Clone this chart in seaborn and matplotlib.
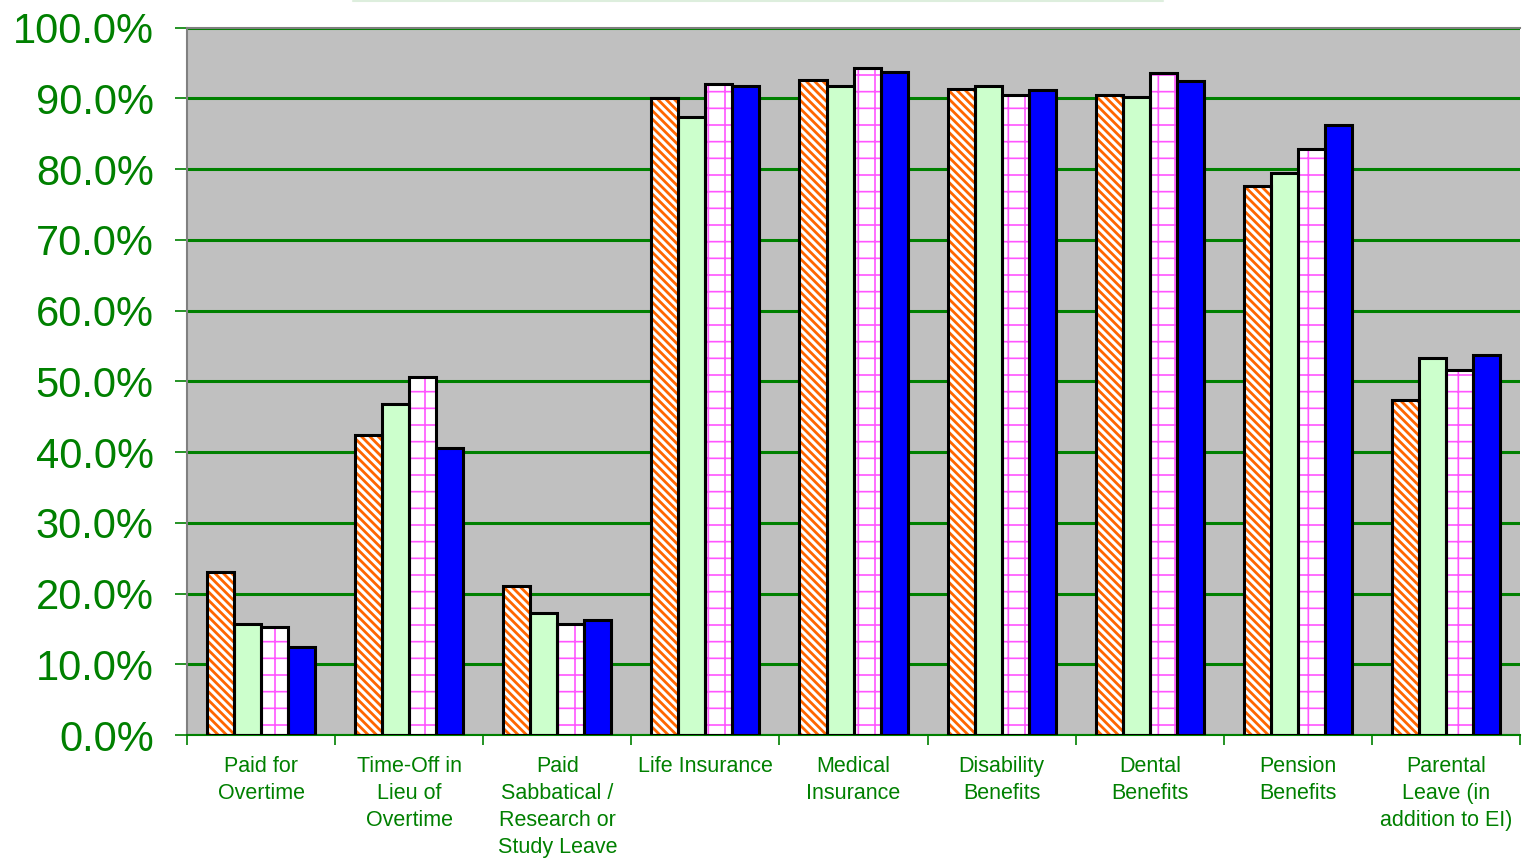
import numpy as np
import pandas as pd
import seaborn as sns
import matplotlib.pyplot as plt
from matplotlib.patches import Rectangle
from matplotlib.lines import Line2D
from matplotlib.ticker import PercentFormatter, FixedLocator

categories = ['Paid for\nOvertime', 'Time-Off in\nLieu of\nOvertime',
              'Paid\nSabbatical /\nResearch or\nStudy Leave', 'Life Insurance',
              'Medical\nInsurance', 'Disability\nBenefits', 'Dental\nBenefits',
              'Pension\nBenefits', 'Parental\nLeave (in\naddition to EI)']
series = ['Series 1', 'Series 2', 'Series 3', 'Series 4']
s1 = [23.1, 42.4, 21.1, 90.1, 92.6, 91.4, 90.5, 77.7, 47.4]
s2 = [15.7, 46.8, 17.3, 87.4, 91.7, 91.7, 90.2, 79.5, 53.3]
s3 = [15.3, 50.6, 15.7, 92.1, 94.3, 90.5, 93.6, 82.9, 51.6]
s4 = [12.5, 40.6, 16.3, 91.8, 93.8, 91.2, 92.5, 86.3, 53.7]

rows = []
for name, vals in zip(series, [s1, s2, s3, s4]):
    for c, v in zip(categories, vals):
        rows.append((c, name, v))
df = pd.DataFrame(rows, columns=['benefit', 'series', 'pct'])

sns.set_style('white')
plt.rcParams['font.family'] = ['Liberation Sans', 'DejaVu Sans']
plt.rcParams['hatch.linewidth'] = 1.6

fig = plt.figure(figsize=(15.22, 8.67), dpi=100)
ax = fig.add_axes([0.1229, 0.152, 0.8758, 0.816])
ax.set_facecolor('#C0C0C0')

sns.barplot(data=df, x='benefit', y='pct', hue='series', order=categories,
            hue_order=series, width=0.73, ax=ax, legend=False,
            palette=['white', '#CCFFCC', 'white', '#0000FF'], saturation=1)

# hatch styling: draw hatch with its own colour, then a black outline on top
styles = {0: ('\\\\\\\\', '#FF6600', 2.0), 2: ('+', '#FF55FF', 1.2)}
for i, bar in enumerate(ax.patches):
    k = i // len(categories)
    bar.set_linewidth(0)
    if k in styles:
        bar.set_hatch(styles[k][0])
        bar.set_edgecolor(styles[k][1])
        if hasattr(bar, 'set_hatch_linewidth'):
            bar.set_hatch_linewidth(styles[k][2])
    x, y = bar.get_xy()
    ax.add_patch(Rectangle((x, y), bar.get_width(), bar.get_height(),
                           fill=False, edgecolor='black', lw=2.2, zorder=3))

ax.set_ylim(0, 100)
ax.set_xlim(-0.5, len(categories) - 0.5)
ax.yaxis.set_major_locator(FixedLocator(np.arange(0, 101, 10)))
ax.yaxis.set_major_formatter(PercentFormatter(decimals=1))
ax.grid(axis='y', color='#008000', lw=2.2)
ax.set_axisbelow(True)
ax.set_xlabel('')
ax.set_ylabel('')

ax.tick_params(axis='y', colors='#008000', labelsize=30, length=9, width=1.2,
               pad=15, left=True, direction='out')
ax.tick_params(axis='x', which='major', colors='#008000', labelsize=15.5,
               length=0, pad=15)
ax.xaxis.set_minor_locator(FixedLocator(np.arange(-0.5, len(categories), 1)))
ax.tick_params(axis='x', which='minor', length=7, width=1.2, color='#008000',
               bottom=True)
for lab in ax.get_xticklabels():
    lab.set_linespacing(1.37)
    lab.set_verticalalignment('top')

for side in ['left', 'top', 'right']:
    ax.spines[side].set_color('#808080')
    ax.spines[side].set_linewidth(1.5)
ax.spines['right'].set_visible(False)
ax.spines['bottom'].set_color('#008000')
ax.spines['bottom'].set_linewidth(1.5)

fig.add_artist(Line2D([0.232, 0.764], [0.999, 0.999], color='#DDEEDD', lw=1.5))

fig.savefig('out.png', dpi=100)
